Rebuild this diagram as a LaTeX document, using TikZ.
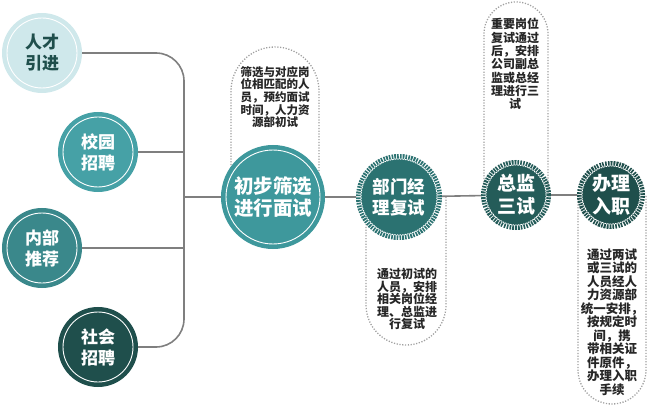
\documentclass[tikz,border=0pt]{standalone}
\usepackage{fontspec}
\newfontfamily\cjk{Noto Sans CJK SC}
\definecolor{pale}{HTML}{CFE8EB}
\definecolor{teal1}{HTML}{46A1A6}
\definecolor{teal2}{HTML}{3A888B}
\definecolor{teal3}{HTML}{3E989C}
\definecolor{deep1}{HTML}{2B7271}
\definecolor{deep2}{HTML}{245C59}
\definecolor{deep3}{HTML}{1F4F4C}
\definecolor{wirec}{HTML}{7F7F7F}
\definecolor{ink}{HTML}{262626}
\definecolor{dotc}{HTML}{A0A0A0}
\begin{document}
\begin{tikzpicture}[x=1pt,y=-1pt,
  stage/.style={circle,fill=#1,draw=white,line width=.9pt,outer sep=5pt,inner sep=0pt,
    preaction={draw=#1,line width=10pt},text=white,align=center},
  dotring/.style={dash pattern=on 1.6pt off 1pt},
  wire/.style={draw=wirec,line width=1.6pt},
  capsule/.style={draw=dotc,line width=1.3pt,dash pattern=on 1.2pt off 1.6pt},
  note/.style={text=ink,align=center,inner sep=0pt}]

  \useasboundingbox (0,0) rectangle (650,406);

  % dotted capsules behind the stages
  \draw[capsule] (231,196) -- (231,91) arc (180:360:44) -- (319,196);
  \draw[capsule] (366,196) -- (366,305) arc (180:0:40) -- (446,196);
  \draw[capsule] (484,196) -- (484,34) arc (180:360:32) -- (548,196);
  \draw[capsule] (578,196) -- (578,370) arc (180:0:34) -- (646,196);

  % sources
  \node[stage=pale,minimum size=70pt,text=deep3,font=\cjk\bfseries\fontsize{17}{21}\selectfont] (rencai) at (42,53) {人才\\引进};
  \node[stage=teal1,minimum size=70pt,font=\cjk\bfseries\fontsize{17}{21}\selectfont] (xiaoyuan) at (98,152) {校园\\招聘};
  \node[stage=teal2,minimum size=70pt,font=\cjk\bfseries\fontsize{17}{21}\selectfont] (neibu) at (42,248) {内部\\推荐};
  \node[stage=deep3,minimum size=70pt,font=\cjk\bfseries\fontsize{17}{21}\selectfont] (shehui) at (98,347) {社会\\招聘};

  % stages
  \node[stage=teal3,minimum size=94pt,font=\cjk\bfseries\fontsize{19.5}{22}\selectfont] (chubu) at (273,197) {初步筛选\\进行面试};
  \node[stage=deep1,dotring,minimum size=76pt,font=\cjk\bfseries\fontsize{17.5}{21}\selectfont] (bumen) at (399,197) {部门经\\理复试};
  \node[stage=deep2,dotring,minimum size=60pt,font=\cjk\bfseries\fontsize{19}{23}\selectfont] (zongjian) at (516,195) {总监\\三试};
  \node[stage=deep3,dotring,minimum size=58pt,font=\cjk\bfseries\fontsize{19}{23}\selectfont] (banli) at (611,195) {办理\\入职};

  \coordinate (bus) at (184,197);
  \draw[wire,rounded corners=28pt] (rencai.east) -| (bus) |- (shehui.east);
  \draw[wire] (xiaoyuan.east) -- (xiaoyuan.east -| bus);
  \draw[wire] (neibu.east) -- (neibu.east -| bus);
  \draw[wire] (bus) -- (chubu) -- (bumen) -- (zongjian) -- (banli);

  % notes
  \node[note,font=\cjk\bfseries\fontsize{11.5}{12.6}\selectfont] (chubunote) at (275,97)
    {筛选与对应岗\\位相匹配的人\\员，预约面试\\时间，人力资\\源部初试};
  \node[note,font=\cjk\bfseries\fontsize{12}{12.6}\selectfont] (bumennote) at (407,299)
    {通过初试的\\人员，安排\\相关岗位经\\理、总监进\\行复试};
  \node[note,font=\cjk\bfseries\fontsize{12}{13.3}\selectfont] (zongjiannote) at (515,64)
    {重要岗位\\复试通过\\后，安排\\公司副总\\监或总经\\理进行三\\试};
  \node[note,font=\cjk\bfseries\fontsize{12.5}{13.5}\selectfont] (banlinote) at (612,322)
    {通过两试\\或三试的\\人员经人\\力资源部\\统一安排，\\按规定时\\间，携\\带相关证\\件原件，\\办理入职\\手续};
\end{tikzpicture}
\end{document}
